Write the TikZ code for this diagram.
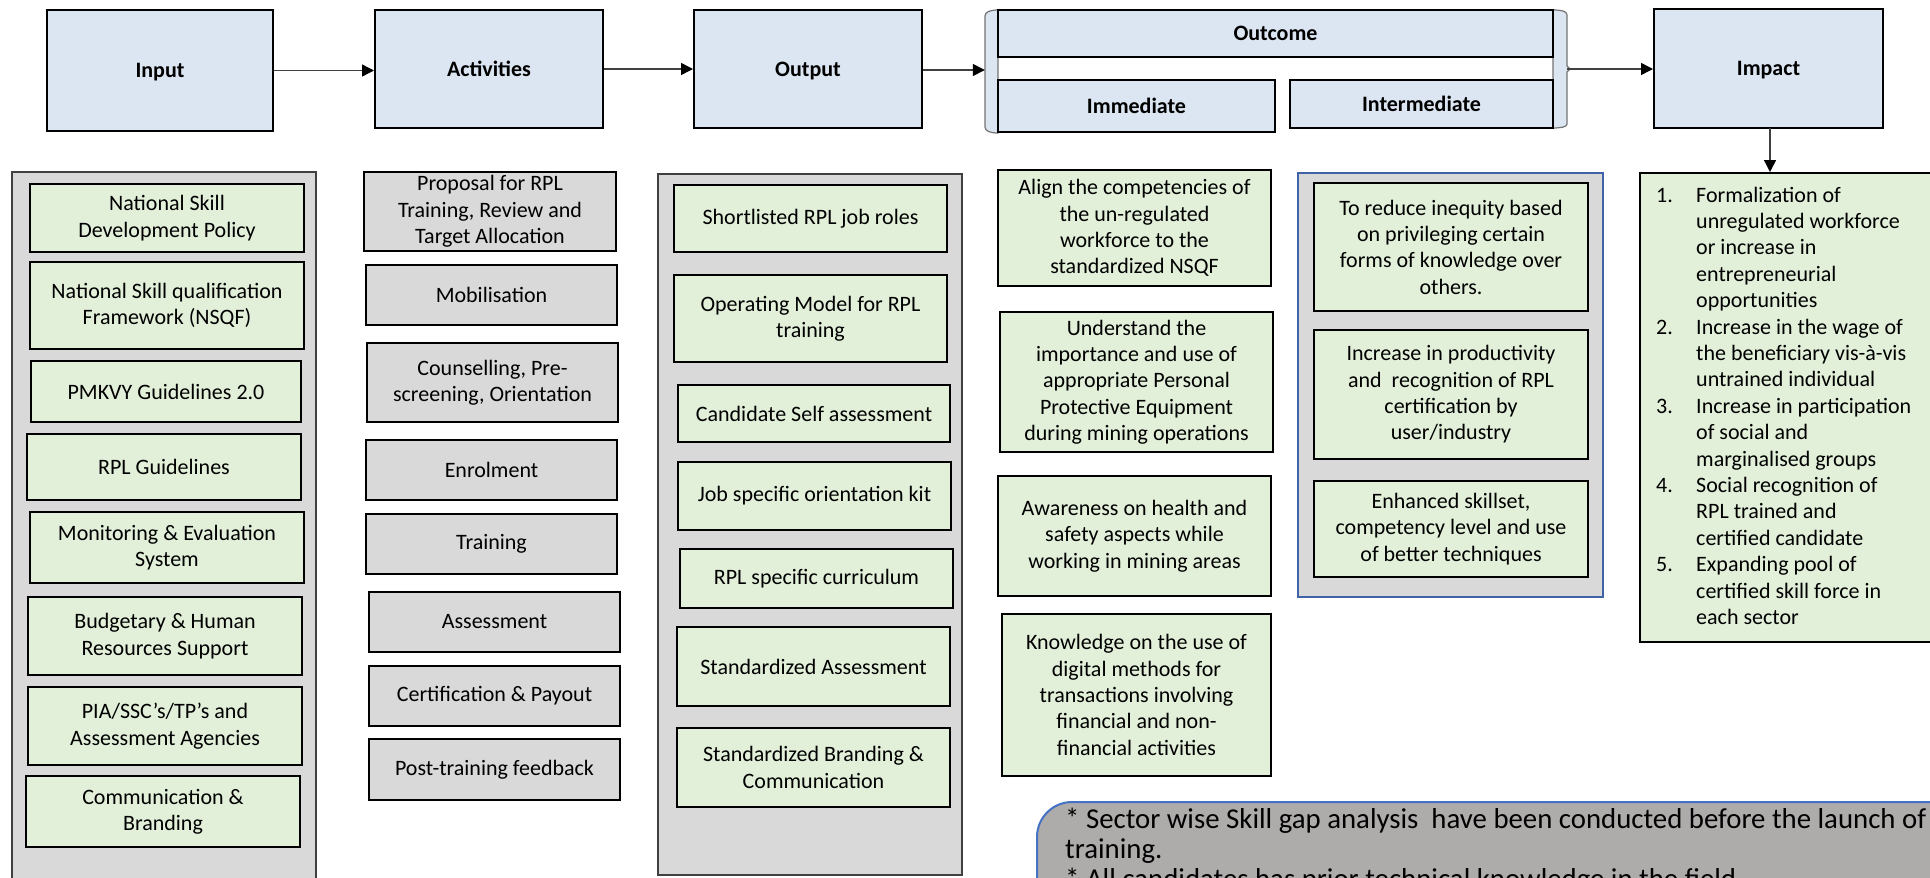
\documentclass[tikz,border=0pt]{standalone}
\usepackage{fontspec}
\setmainfont{Carlito}
\usetikzlibrary{arrows.meta}

\definecolor{hdrblue}{HTML}{DCE6F2}
\definecolor{leafgreen}{HTML}{E2EFD9}
\definecolor{panelgray}{HTML}{D9D9D9}
\definecolor{notegray}{HTML}{AEABAB}
\definecolor{edgeblue}{HTML}{4472C4}
\definecolor{paneledge}{HTML}{3F63A6}
\definecolor{linkgray}{HTML}{404040}

% box given by its corners: name, style, x1, y1, x2, y2, text
\newcommand{\cellbox}[7]{%
  \node[#2, minimum width={(#5)-(#3)}, minimum height={(#6)-(#4)}]
    (#1) at ({((#3)+(#5))/2},{((#4)+(#6))/2}) {#7};}

\tikzset{
  basebox/.style={draw=black, line width=2pt, inner sep=0pt, align=center,
    font=\fontsize{22}{26.3}\selectfont},
  header/.style={basebox, fill=hdrblue, text depth=0pt,
    font=\fontsize{22}{26}\selectfont\bfseries},
  greenbox/.style={basebox, fill=leafgreen},
  graybox/.style={basebox, fill=panelgray},
  panel/.style={draw=black!75, line width=2pt, fill=panelgray, inner sep=0pt},
  bluepanel/.style={draw=paneledge, line width=2pt, fill=panelgray, inner sep=0pt},
  listbox/.style={draw=black, line width=2pt, fill=leafgreen, inner sep=0pt},
  bracket/.style={fill=hdrblue, draw=black!55, line width=1.2pt},
  link/.style={draw=linkgray, line width=1.4pt,
    -{Triangle[length=12pt,width=12pt,color=black]}},
  listtext/.style={anchor=base west, inner sep=0pt, font=\fontsize{22}{26.4}\selectfont},
  notetext/.style={anchor=base west, inner sep=0pt, font=\fontsize{28.8}{30}\selectfont},
}

\begin{document}
\begin{tikzpicture}[x=1pt,y=-1pt]
\useasboundingbox (0,0) rectangle (1930,878);
\clip (0,0) rectangle (1930,878);

% ---------- outcome group brackets ----------
\path[bracket] (998,10) .. controls (990,10) and (985,12) .. (985,16)
  -- (985,127) .. controls (985,131) and (990,133) .. (998,133) -- cycle;
\path[bracket] (1553,10) .. controls (1561,10) and (1567,11) .. (1567,15)
  -- (1567,66) -- (1570,69) -- (1567,72)
  -- (1567,124) .. controls (1567,127) and (1561,128) .. (1553,128) -- cycle;
\node[inner sep=0pt, minimum width=582pt, minimum height=123pt] (outgrp) at (1276,71) {};

% ---------- header row ----------
\cellbox{inp}{header}{47}{10}{273}{131}{Input}
\cellbox{act}{header}{375}{10}{603}{128}{Activities}
\cellbox{outp}{header}{694}{10}{922}{128}{Output}
\cellbox{outc}{header}{998}{10}{1553}{57}{Outcome}
\cellbox{imm}{header}{998}{80}{1275}{132}{Immediate}
\cellbox{intm}{header}{1290}{80}{1553}{128}{Intermediate}
\cellbox{imp}{header}{1654}{9}{1883}{128}{Impact}

% ---------- containers ----------
\cellbox{inpanel}{panel}{12}{172}{316}{900}{}
\cellbox{outpanel}{panel}{658}{174}{962}{875}{}
\cellbox{intpanel}{bluepanel}{1298}{173}{1603}{597}{}
\cellbox{implist}{listbox}{1640}{173}{1945}{642}{}

% ---------- input items ----------
\cellbox{in1}{greenbox}{30}{184}{304}{252}{National Skill\\Development Policy}
\cellbox{in2}{greenbox}{30}{262}{304}{349}{National Skill qualification\\Framework (NSQF)}
\cellbox{in3}{greenbox}{31}{361}{301}{422}{PMKVY Guidelines 2.0}
\cellbox{in4}{greenbox}{27}{434}{301}{500}{RPL Guidelines}
\cellbox{in5}{greenbox}{30}{512}{304}{583}{Monitoring \& Evaluation\\System}
\cellbox{in6}{greenbox}{28}{597}{302}{675}{Budgetary \& Human\\Resources Support}
\cellbox{in7}{greenbox}{28}{687}{302}{765}{PIA/SSC’s/TP’s and\\Assessment Agencies}
\cellbox{in8}{greenbox}{26}{776}{300}{847}{Communication \&\\Branding}

% ---------- activities ----------
\cellbox{ac1}{graybox}{364}{172}{616}{251}{Proposal for RPL\\Training, Review and\\Target Allocation}
\cellbox{ac2}{graybox}{366}{265}{617}{325}{Mobilisation}
\cellbox{ac3}{graybox}{367}{343}{618}{422}{Counselling, Pre-\\screening, Orientation}
\cellbox{ac4}{graybox}{366}{440}{617}{500}{Enrolment}
\cellbox{ac5}{graybox}{366}{514}{617}{574}{Training}
\cellbox{ac6}{graybox}{369}{592}{620}{652}{Assessment}
\cellbox{ac7}{graybox}{369}{666}{620}{726}{Certification \& Payout}
\cellbox{ac8}{graybox}{369}{739}{620}{800}{Post-training feedback}

% ---------- outputs ----------
\cellbox{op1}{greenbox}{674}{185}{947}{252}{Shortlisted RPL job roles}
\cellbox{op2}{greenbox}{674}{275}{947}{362}{Operating Model for RPL\\training}
\cellbox{op3}{greenbox}{678}{385}{950}{442}{Candidate Self assessment}
\cellbox{op4}{greenbox}{678}{462}{951}{530}{Job specific orientation kit}
\cellbox{op5}{greenbox}{680}{549}{953}{608}{RPL specific curriculum}
\cellbox{op6}{greenbox}{677}{627}{950}{706}{Standardized Assessment}
\cellbox{op7}{greenbox}{677}{728}{950}{807}{Standardized Branding \&\\Communication}

% ---------- immediate outcomes ----------
\cellbox{im1}{greenbox}{998}{170}{1271}{286}{Align the competencies of\\the un-regulated\\workforce to the\\standardized NSQF}
\cellbox{im2}{greenbox}{1000}{312}{1273}{452}{Understand the\\importance and use of\\appropriate Personal\\Protective Equipment\\during mining operations}
\cellbox{im3}{greenbox}{998}{476}{1271}{596}{Awareness on health and\\safety aspects while\\working in mining areas}
\cellbox{im4}{greenbox}{1002}{614}{1271}{776}{Knowledge on the use of\\digital methods for\\transactions involving\\financial and non-\\financial activities}

% ---------- intermediate outcomes ----------
\cellbox{it1}{greenbox}{1314}{183}{1588}{311}{To reduce inequity based\\on privileging certain\\forms of knowledge over\\others.}
\cellbox{it2}{greenbox}{1314}{330}{1588}{459}{Increase in productivity\\and\ \ recognition of RPL\\certification by\\user/industry}
\cellbox{it3}{greenbox}{1314}{481}{1588}{577}{Enhanced skillset,\\competency level and use\\of better techniques}

% ---------- impact list ----------
\foreach \row/\txt in {
  0/Formalization of, 1/unregulated workforce, 2/or increase in,
  3/entrepreneurial, 4/opportunities,
  5/Increase in the wage of, 6/the beneficiary vis-à-vis, 7/untrained individual,
  8/Increase in participation, 9/of social and, 10/marginalised groups,
  11/Social recognition of, 12/RPL trained and, 13/certified candidate,
  14/Expanding pool of, 15/certified skill force in, 16/each sector}
  \node[listtext] (impline\row) at (1696,{202+26.4*\row}) {\txt};
\foreach \row/\num in {0/1, 5/2, 8/3, 11/4, 14/5}
  \node[listtext] (impnum\num) at (1656,{202+26.4*\row}) {\num.};

% ---------- assumptions note (rounded top-left corner only) ----------
\path[fill=notegray, draw=edgeblue, line width=2pt]
  (1037,900) -- (1037,837) .. controls (1037,817.7) and (1052.7,802) .. (1072,802)
  -- (1945,802) -- (1945,900) -- cycle;
\node[notetext] (note1) at (1065,828) {* Sector wise Skill gap analysis\ \ have been conducted before the launch of};
\node[notetext] (note2) at (1065,858) {training.};
\node[notetext] (note3) at (1065,888) {* All candidates has prior technical knowledge in the field};

% ---------- connectors ----------
\coordinate (rowA) at (0,70);
\coordinate (rowB) at (0,69);
\coordinate (impfoot) at (1770,128);
\draw[link] (inp.east) -- (inp.east -| act.west);
\draw[link] (act.east) -- (act.east -| outp.west);
\draw[link] (outp.east |- rowA) -- (outgrp.west |- rowA);
\draw[link] (outgrp.east |- rowB) -- (imp.west |- rowB);
\draw[link] (impfoot) -- (impfoot |- implist.north);
\end{tikzpicture}
\end{document}
